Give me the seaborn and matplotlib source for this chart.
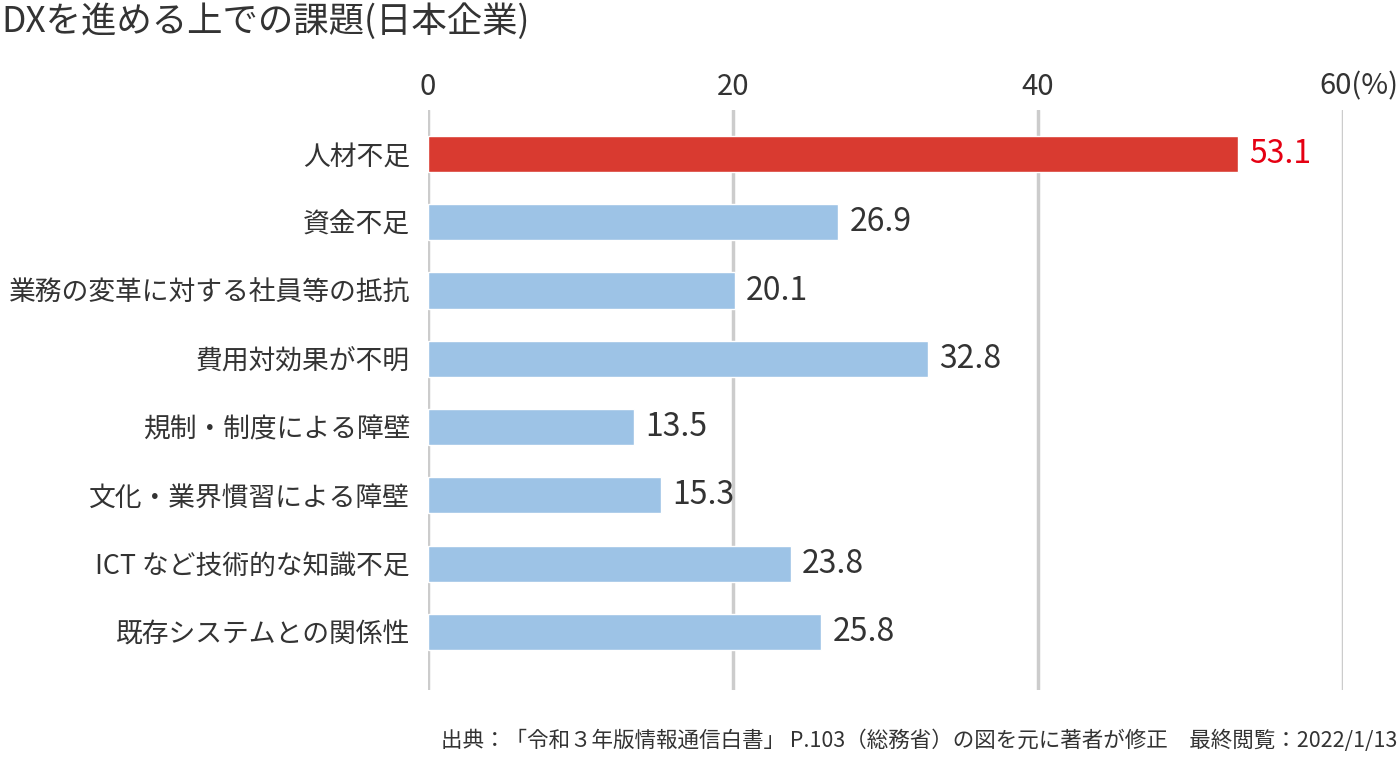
import matplotlib
matplotlib.use("Agg")
import matplotlib.pyplot as plt
import matplotlib.transforms as mtransforms
import seaborn as sns

# Data (%)
categories = [
    '人材不足',
    '資金不足',
    '業務の変革に対する社員等の抵抗',
    '費用対効果が不明',
    '規制・制度による障壁',
    '文化・業界慣習による障壁',
    'ICT など技術的な知識不足',
    '既存システムとの関係性',
]
values = [53.1, 26.9, 20.1, 32.8, 13.5, 15.3, 23.8, 25.8]
tick_values = [0, 20, 40, 60]
tick_labels = ['0', '20', '40', '60(%)']

bar_blue = '#9DC3E6'
bar_red = '#D93A30'
text_red = '#E50012'
text_col = '#333333'
colors = [bar_red] + [bar_blue] * (len(categories) - 1)

sns.set_theme(style='white')
plt.rcParams['font.family'] = ['Noto Sans CJK JP', 'DejaVu Sans']

fig = plt.figure(figsize=(14, 7.64), dpi=100)
ax = fig.add_axes([0.3057, 0.0969, 0.6536, 0.7591])

sns.barplot(x=values, y=categories, hue=categories, palette=colors,
            legend=False, width=0.53, saturation=1, ax=ax, zorder=3)

ax.set_xlim(0, 60)
ax.set_ylim(7.85, -0.644)
ax.set_xticks(tick_values)
ax.set_xticklabels(tick_labels)
ax.xaxis.tick_top()
ax.tick_params(axis='x', length=0, pad=6, labelsize=21, labelcolor=text_col)
ax.tick_params(axis='y', length=0, pad=13, labelsize=19.3, labelcolor=text_col)
ax.set_xlabel('')
ax.set_ylabel('')
for lbl in ax.get_xticklabels()[-1:]:
    lbl.set_transform(lbl.get_transform() +
                      mtransforms.ScaledTranslation(0.16, 0, fig.dpi_scale_trans))

for v in tick_values:
    ax.axvline(v, color='#CCCCCC', lw=2.5, zorder=1)
for s in ax.spines.values():
    s.set_visible(False)

for i, v in enumerate(values):
    ax.annotate(f'{v:.1f}', xy=(v, i), xytext=(8, 0), textcoords='offset points',
                ha='left', va='center', fontsize=23,
                color=text_red if i == 0 else text_col)

fig.text(0.001, 0.972, 'DXを進める上での課題(日本企業)', ha='left', va='center',
         fontsize=25.5, color=text_col)
fig.text(0.998, 0.031,
         '出典：「令和３年版情報通信白書」 P.103（総務省）の図を元に著者が修正　最終閲覧：2022/1/13',
         ha='right', va='center', fontsize=15.5, color=text_col)

fig.savefig('out.png', dpi=100, facecolor='white')
